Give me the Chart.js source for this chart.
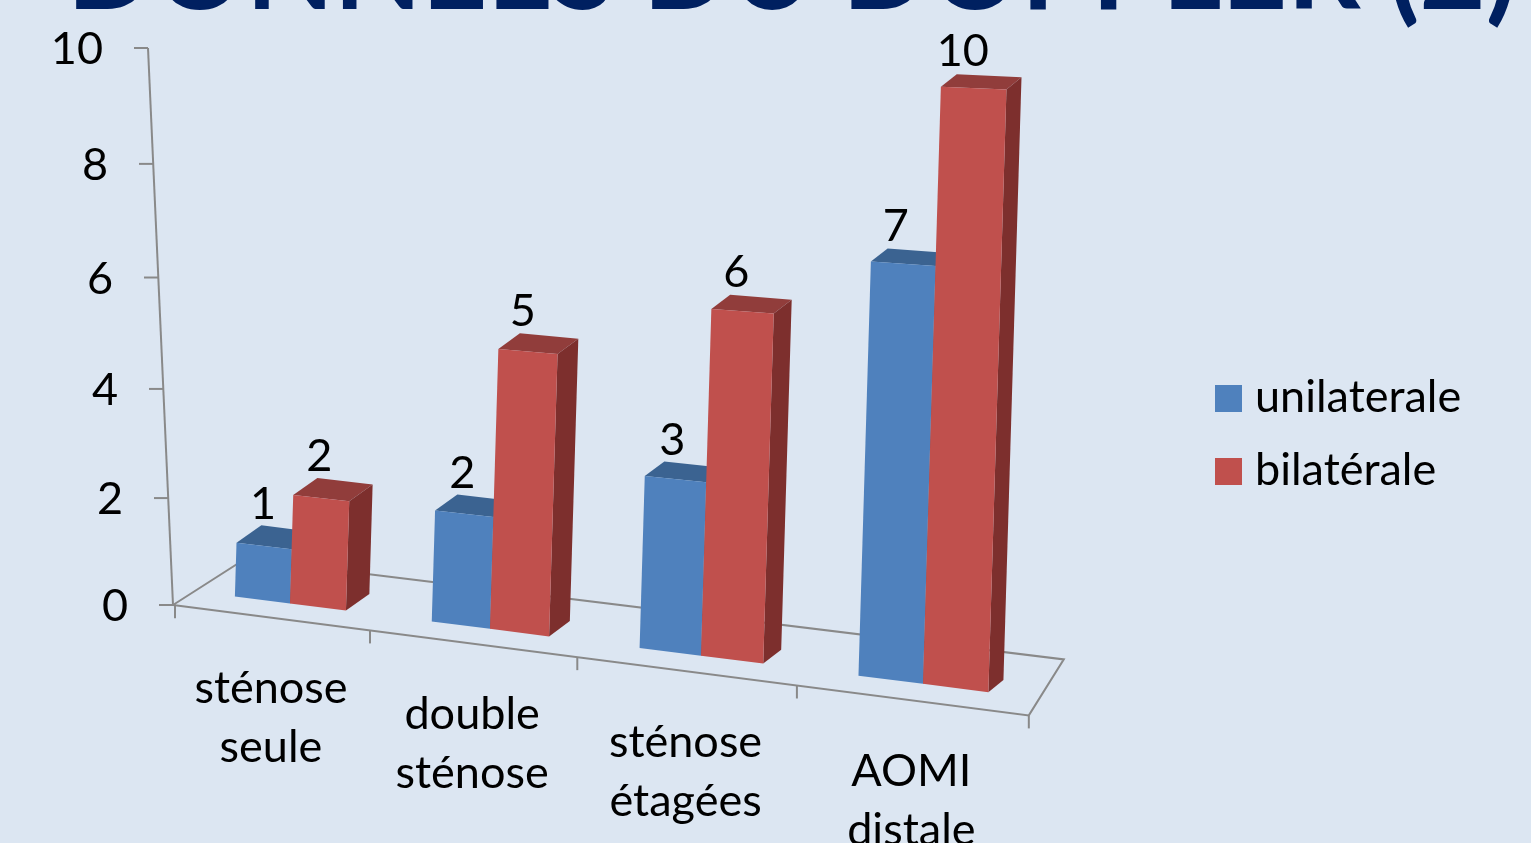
<!DOCTYPE html>
<html lang="fr">
<head>
<meta charset="utf-8">
<title>Données du doppler (2)</title>
<script src="https://cdn.jsdelivr.net/npm/chart.js@4.4.1/dist/chart.umd.min.js"></script>
<style>
  html, body { margin: 0; padding: 0; background: #dce6f2; overflow: hidden; }
  #wrap { width: 1531px; height: 843px; }
</style>
</head>
<body>
<div id="wrap"><canvas id="myChart" width="1531" height="843"></canvas></div>
<script>
const titleText = 'DONNEES DU DOPPLER (2)';
const categories = [['sténose', 'seule'], ['double', 'sténose'], ['sténose', 'étagées'], ['AOMI', 'distale']];
const seriesNames = ['unilaterale', 'bilatérale'];
const unilaterale = [1, 2, 3, 7];
const bilaterale = [2, 5, 6, 10];
const yTicks = [0, 2, 4, 6, 8, 10];

const FONT = 'Lato, "Open Sans", sans-serif';
const AXIS_GREY = '#898989';
// front / top / side faces of the 3d boxes
const shades = [
  { front: '#4f81bd', top: '#3b6391', side: '#2f527c' },
  { front: '#c0504d', top: '#913d3b', side: '#7d2f2d' }
];

// rough perspective of the powerpoint 3d chart, relative to the chart area
function persp(area) {
  const L = area.left, R = area.right, T = area.top, B = area.bottom;
  return {
    L, R, T, B,
    barX: x => { const u = x - L; return L + 21.1 + 0.8852 * u + 1.207e-4 * u * u; },
    frontX: x => { const u = x - L; return L + 2 + 0.8845 * u + 1.35e-4 * u * u; },
    frontY: X => B + 0.129 * (X - L),
    baseY: X => B + 0.127 * (X - L - 129),
    hScale: X => 0.9695 + 1.55e-4 * (X - L - 89),
    depth: X => ({ x: 24 - 0.013 * (X - L - 127), y: -17 + 0.007 * (X - L - 127) })
  };
}

function poly(ctx, pts, color) {
  ctx.beginPath();
  ctx.moveTo(pts[0].x, pts[0].y);
  for (let i = 1; i < pts.length; i++) ctx.lineTo(pts[i].x, pts[i].y);
  ctx.closePath();
  ctx.fillStyle = color;
  ctx.fill();
}

function line(ctx, x1, y1, x2, y2) {
  ctx.beginPath();
  ctx.moveTo(x1, y1);
  ctx.lineTo(x2, y2);
  ctx.stroke();
}

function drawBox(ctx, P, el, shade) {
  const half = el.width / 2;
  const xl = P.barX(el.x - half), xr = P.barX(el.x + half);
  const nominal = el.base - el.y;
  const hl = nominal * P.hScale(xl), hr = nominal * P.hScale(xr);
  const bl = { x: xl, y: P.baseY(xl) }, br = { x: xr, y: P.baseY(xr) };
  const tl = { x: xl + 0.03 * hl, y: bl.y - hl }, tr = { x: xr + 0.03 * hr, y: br.y - hr };
  const dl = P.depth(xl), dr = P.depth(xr);
  poly(ctx, [tl, tr, { x: tr.x + dr.x, y: tr.y + dr.y }, { x: tl.x + dl.x, y: tl.y + dl.y }], shade.top);
  poly(ctx, [tr, br, { x: br.x + dr.x, y: br.y + dr.y }, { x: tr.x + dr.x, y: tr.y + dr.y }], shade.side);
  poly(ctx, [bl, br, tr, tl], shade.front);
  const hc = (hl + hr) / 2;
  return { x: (xl + xr) / 2 + 0.012 * hc, y: (tl.y + tr.y) / 2 + (dl.y + dr.y) / 2 - 10 };
}

const perspectivePlugin = {
  id: 'perspective3d',
  beforeDatasetsDraw(chart) {
    const ctx = chart.ctx;
    const P = persp(chart.chartArea);
    const xs = chart.scales.x, ys = chart.scales.y;
    const H = chart.height;

    ctx.save();

    // title, mostly cut off by the top of the slide
    ctx.fillStyle = '#002060';
    ctx.font = `bold 118px ${FONT}`;
    ctx.textAlign = 'left';
    ctx.textBaseline = 'alphabetic';
    const tw = ctx.measureText(titleText).width;
    ctx.save();
    ctx.translate(67, 9);
    ctx.scale(1450 / tw, 1);
    ctx.fillText(titleText, 0, 0);
    ctx.restore();

    ctx.strokeStyle = AXIS_GREY;
    ctx.lineWidth = 2;

    // floor
    const frX = P.frontX(P.R), frY = P.frontY(frX);
    ctx.beginPath();
    ctx.moveTo(P.L, P.B);
    ctx.lineTo(frX, frY);
    ctx.lineTo(frX + 35, frY - 56);
    ctx.lineTo(P.L + 72, P.B - 46);
    ctx.closePath();
    ctx.stroke();

    // front edge ticks at category boundaries
    for (let k = 0; k <= categories.length; k++) {
      const X = P.frontX(xs.getPixelForValue(k - 0.5));
      const Y = P.frontY(X);
      line(ctx, X, Y, X, Y + 13);
    }

    // value axis, leaning back
    const axisAt = v => {
      const py = ys.getPixelForValue(v);
      const t = (P.B - py) / (P.B - P.T);
      return { x: P.L - 25 * t, y: py + 28 * t * (1 - t) };
    };
    const a0 = axisAt(yTicks[0]), a1 = axisAt(yTicks[yTicks.length - 1]);
    line(ctx, a0.x, a0.y, a1.x, a1.y);
    ctx.fillStyle = '#000';
    ctx.font = `45px ${FONT}`;
    ctx.textAlign = 'right';
    yTicks.forEach(v => {
      const a = axisAt(v);
      line(ctx, a.x - 14, a.y, a.x, a.y);
      ctx.fillText(String(v), a.x - 45, a.y + 16);
    });

    // boxes, category by category so the red hides the blue side
    const labels = [];
    const n = chart.data.labels.length;
    for (let i = 0; i < n; i++) {
      chart.data.datasets.forEach((ds, di) => {
        const el = chart.getDatasetMeta(di).data[i];
        const pos = drawBox(ctx, P, el, shades[di]);
        labels.push({ pos, text: String(ds.data[i]) });
      });
    }

    ctx.fillStyle = '#000';
    ctx.textAlign = 'center';
    labels.forEach(l => ctx.fillText(l.text, l.pos.x, l.pos.y));

    // category labels along the front edge
    for (let i = 0; i < n; i++) {
      const X = P.frontX(xs.getPixelForTick(i));
      const base = P.frontY(X) + 85.5;
      chart.data.labels[i].forEach((t, j) => ctx.fillText(t, X, base + j * 59));
    }

    // legend
    ctx.textAlign = 'left';
    chart.data.datasets.forEach((ds, di) => {
      const by = H / 2 + 27 + (di - 0.5) * 73;
      const lx = P.R + 188;
      ctx.fillStyle = ds.backgroundColor;
      ctx.fillRect(lx, by - 27, 27, 27);
      ctx.fillStyle = '#000';
      ctx.fillText(ds.label, lx + 40, by);
    });

    ctx.restore();
    return false;
  }
};

const config = {
  type: 'bar',
  data: {
    labels: categories,
    datasets: [
      { label: seriesNames[0], data: unilaterale, backgroundColor: shades[0].front },
      { label: seriesNames[1], data: bilaterale, backgroundColor: shades[1].front }
    ]
  },
  options: {
    responsive: false,
    animation: false,
    events: [],
    layout: { padding: { left: 173, right: 504, top: 48, bottom: 238 } },
    datasets: { bar: { categoryPercentage: 0.571, barPercentage: 1 } },
    scales: {
      x: { display: false, offset: true },
      y: { display: false, min: 0, max: 10 }
    },
    plugins: {
      legend: { display: false },
      tooltip: { enabled: false }
    }
  },
  plugins: [perspectivePlugin]
};

const myChart = new Chart(document.getElementById('myChart'), config);
</script>
</body>
</html>
